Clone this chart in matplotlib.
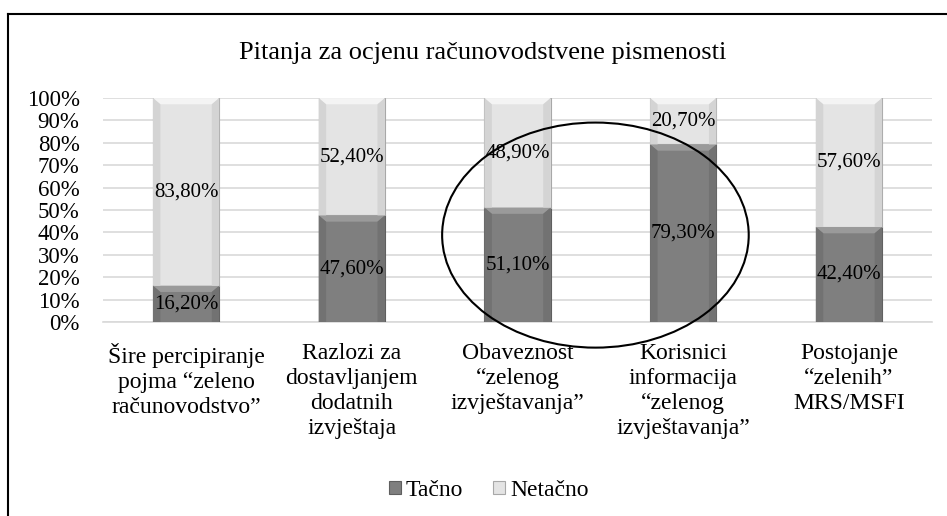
import matplotlib.pyplot as plt
from matplotlib.patches import Ellipse, Polygon
from matplotlib.lines import Line2D

plt.rcParams['font.family'] = ['Liberation Serif', 'DejaVu Serif']

categories = ['Šire percipiranje\npojma “zeleno\nračunovodstvo”',
              'Razlozi za\ndostavljanjem\ndodatnih\nizvještaja',
              'Obaveznost\n“zelenog\nizvještavanja”',
              'Korisnici\ninformacija\n“zelenog\nizvještavanja”',
              'Postojanje\n“zelenih”\nMRS/MSFI']
tacno = [16.2, 47.6, 51.1, 79.3, 42.4]
netacno = [83.8, 52.4, 48.9, 20.7, 57.6]
series_names = ['Tačno', 'Netačno']
yticks = list(range(0, 101, 10))

fig = plt.figure(figsize=(9.47, 5.16), dpi=100)
ax = fig.add_axes([0.109, 0.376, 0.875, 0.434])

x = list(range(len(categories)))
w = 0.4
dark, light = '#7f7f7f', '#e4e4e4'
b1 = ax.bar(x, tacno, w, color=dark, edgecolor='#5f5f5f', linewidth=0.8, zorder=3, label=series_names[0])
b2 = ax.bar(x, netacno, w, bottom=tacno, color=light, edgecolor='#a8a8a8', linewidth=0.8, zorder=3, label=series_names[1])


# simple bevel: a lighter trapezoid at the top of each segment
def bevel(bars, top_col, side_col):
    for r in bars:
        x0, y0 = r.get_x(), r.get_y()
        bw, bh = r.get_width(), r.get_height()
        d = 0.045
        dy = 2.8
        ax.add_patch(Polygon([(x0, y0 + bh), (x0 + bw, y0 + bh), (x0 + bw - d, y0 + bh - dy), (x0 + d, y0 + bh - dy)],
                             closed=True, color=top_col, zorder=4, lw=0))
        ax.add_patch(Polygon([(x0 + bw, y0), (x0 + bw, y0 + bh), (x0 + bw - d, y0 + bh - dy), (x0 + bw - d, y0)],
                             closed=True, color=side_col, zorder=4, lw=0))
        ax.add_patch(Polygon([(x0, y0), (x0, y0 + bh), (x0 + d, y0 + bh - dy), (x0 + d, y0)],
                             closed=True, color=side_col, zorder=4, lw=0))


bevel(b1, '#9a9a9a', '#727272')
bevel(b2, '#f4f4f4', '#d4d4d4')

for i in x:
    ax.text(i, tacno[i] / 2, f'{tacno[i]:.2f}%'.replace('.', ','), ha='center', va='center', fontsize=15, zorder=5)
    ax.text(i, tacno[i] + netacno[i] / 2, f'{netacno[i]:.2f}%'.replace('.', ','), ha='center', va='center',
            fontsize=15, zorder=5)

ax.set_xlim(-0.5, len(categories) - 0.5)
ax.set_ylim(0, 100)
ax.set_yticks(yticks)
ax.set_yticklabels([f'{t}%' for t in yticks], fontsize=16.5)
ax.set_xticks(x)
ax.set_xticklabels(categories, fontsize=17, linespacing=1.25, va='top')
ax.tick_params(axis='both', length=0)
ax.tick_params(axis='x', pad=15)
ax.tick_params(axis='y', pad=17)
ax.grid(axis='y', color='#d9d9d9', linewidth=1.2, zorder=0)
for s in ['top', 'right', 'left']:
    ax.spines[s].set_visible(False)
ax.spines['bottom'].set_color('#d9d9d9')
ax.spines['bottom'].set_linewidth(1.2)

# highlight ellipse
ax.add_patch(Ellipse((2.47, 38.8), 1.85, 100.5, fill=False, edgecolor='black', lw=1.5, clip_on=False, zorder=6))

fig.text(0.51, 0.898, 'Pitanja za ocjenu računovodstvene pismenosti', ha='center', va='center', fontsize=19)
fig.legend(loc='center', bbox_to_anchor=(0.516, 0.05), ncol=2, frameon=False, fontsize=17,
           handlelength=0.5, handleheight=0.5, handletextpad=0.2, columnspacing=1.3)

# outer frame (top and left)
fig.add_artist(Line2D([0.0085, 1.0], [0.973, 0.973], color='black', lw=1.5, transform=fig.transFigure))
fig.add_artist(Line2D([0.0085, 0.0085], [0.0, 0.973], color='black', lw=1.5, transform=fig.transFigure))

fig.savefig('out.png', dpi=100)
